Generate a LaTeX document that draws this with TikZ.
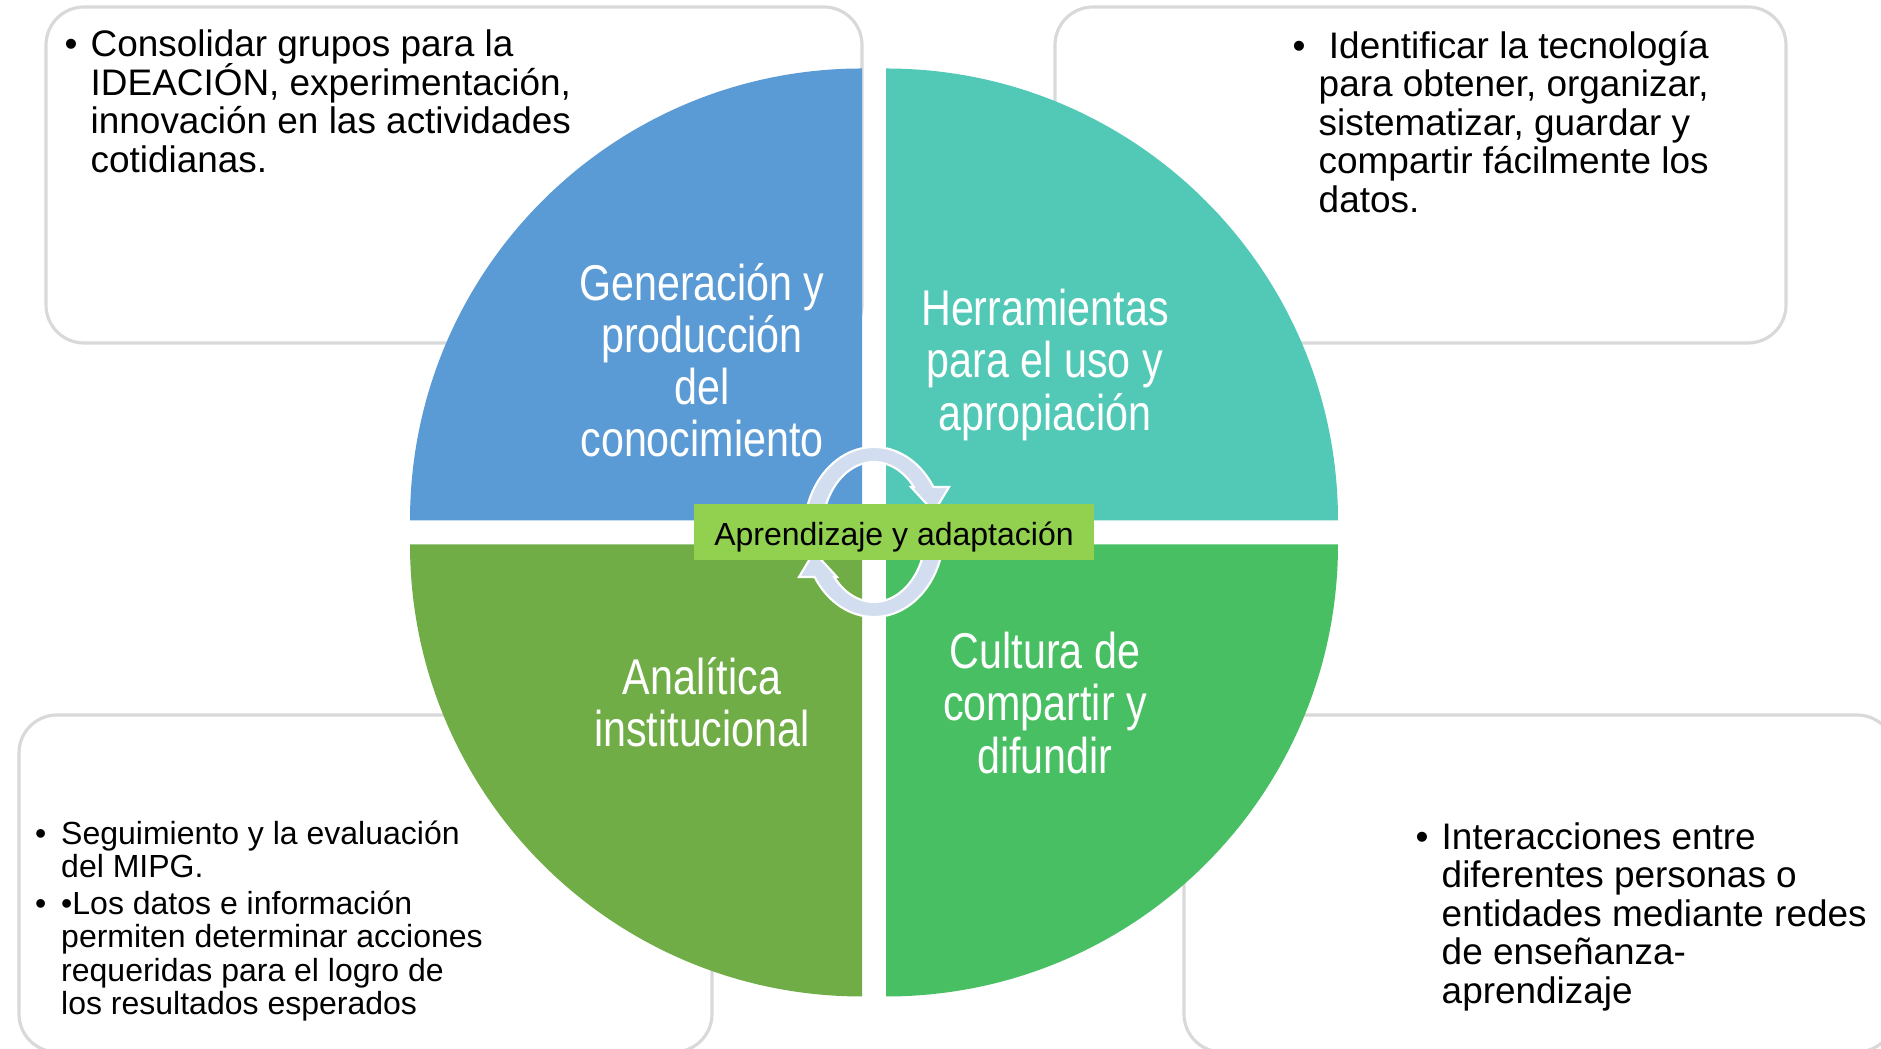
\documentclass[tikz,border=0pt]{standalone}
\usepackage{fontspec}
\setmainfont{Liberation Sans}
\newfontfamily\narrowfont[FakeStretch=0.82]{Liberation Sans}
\usetikzlibrary{positioning}
\definecolor{quadblue}{HTML}{5B9BD5}
\definecolor{quadteal}{HTML}{52C9B6}
\definecolor{quadolive}{HTML}{70AD47}
\definecolor{quadgreen}{HTML}{48BF62}
\definecolor{hubgreen}{HTML}{92D050}
\definecolor{ringblue}{HTML}{D2DEEF}
\definecolor{boxgray}{HTML}{D9D9D9}
\newcommand{\bulletbox}{\makebox[7.4pt][l]{\textbullet}}
\newcommand{\hangbox}{\hspace*{7.4pt}}
\newcommand{\tightlines}{\lineskiplimit -5pt\relax}
\tikzset{
  infobox/.style={draw=boxgray, line width=0.9pt, rounded corners=0.38cm},
  listtext/.style={anchor=north west, inner sep=0pt, align=left, font=\fontsize{10.5}{10.95}\selectfont\tightlines},
  smalllist/.style={listtext, font=\fontsize{9.1}{9.4}\selectfont\tightlines},
  quadlabel/.style={inner sep=0pt, align=center, text=white, font=\narrowfont\fontsize{14.3}{14.8}\selectfont\tightlines},
  ringarrow/.style={fill=ringblue, draw=white, line width=0.6pt},
  cyclearrow/.pic={
    \path[ringarrow] (-52,0) arc[start angle=180, end angle=40, x radius=52, y radius=70]
      -- (37,45) -- (60,20) -- (75,45) -- (59.4,45)
      arc[start angle=32, end angle=180, x radius=70, y radius=85] -- cycle;
  }
}

\begin{document}
\begin{tikzpicture}[x=0.01cm, y=0.01cm]
\path[fill=white, use as bounding box] (0,0) rectangle (1881,1049);

\draw[infobox] (46,706) rectangle (862,1042);
\draw[infobox] (1055,706) rectangle (1786,1042);
\draw[infobox] (19,-3) rectangle (712,334);
\draw[infobox] (1184,-3) rectangle (1895,334);

\node (ideas) [listtext] at (64,1019.5) {\bulletbox Consolidar grupos para la\\\hangbox IDEACIÓN, experimentación,\\\hangbox innovación en las actividades\\\hangbox cotidianas.};
\node (tools) [listtext] at (1292,1018.4) {\bulletbox\ Identificar la tecnología\\\hangbox para obtener, organizar,\\\hangbox sistematizar, guardar y\\\hangbox compartir fácilmente los\\\hangbox datos.};
\node (mipg) [smalllist] at (34.5,229) {\bulletbox Seguimiento y la evaluación\\\hangbox del MIPG.\\[1.3pt]\bulletbox •Los datos e información\\\hangbox permiten determinar acciones\\\hangbox requeridas para el logro de\\\hangbox los resultados esperados};
\node (redes) [listtext] at (1415,227) {\bulletbox Interacciones entre\\\hangbox diferentes personas o\\\hangbox entidades mediante redes\\\hangbox de enseñanza-\\\hangbox aprendizaje};

\fill[quadblue] (862,528.5) -- (410,528.5) arc[start angle=180, end angle=90, radius=452] -- cycle;
\fill[quadteal] (886,528.5) -- (886,980.5) arc[start angle=90, end angle=0, radius=452] -- cycle;
\fill[quadolive] (862,504.5) -- (862,52.5) arc[start angle=270, end angle=180, radius=452] -- cycle;
\fill[quadgreen] (886,504.5) -- (1338,504.5) arc[start angle=0, end angle=-90, radius=452] -- cycle;

\node (gen) [quadlabel] at (702,688.5) {Generación y\\producción\\del\\conocimiento};
\node (herr) [quadlabel] at (1045,684) {Herramientas\\para el uso y\\apropiación};
\node (anal) [quadlabel] at (702,346.5) {Analítica\\institucional};
\node (cult) [quadlabel] at (1045,346) {Cultura de\\compartir y\\difundir};

\pic at (874,517) {cyclearrow};
\pic[rotate=180] at (874,517) {cyclearrow};

\node (hub) [fill=hubgreen, minimum width=4cm, minimum height=0.56cm, inner sep=0pt, text height=7.6pt, text depth=0pt, font=\fontsize{9.1}{10}\selectfont] at (894,517) {Aprendizaje y adaptación};
\end{tikzpicture}
\end{document}
